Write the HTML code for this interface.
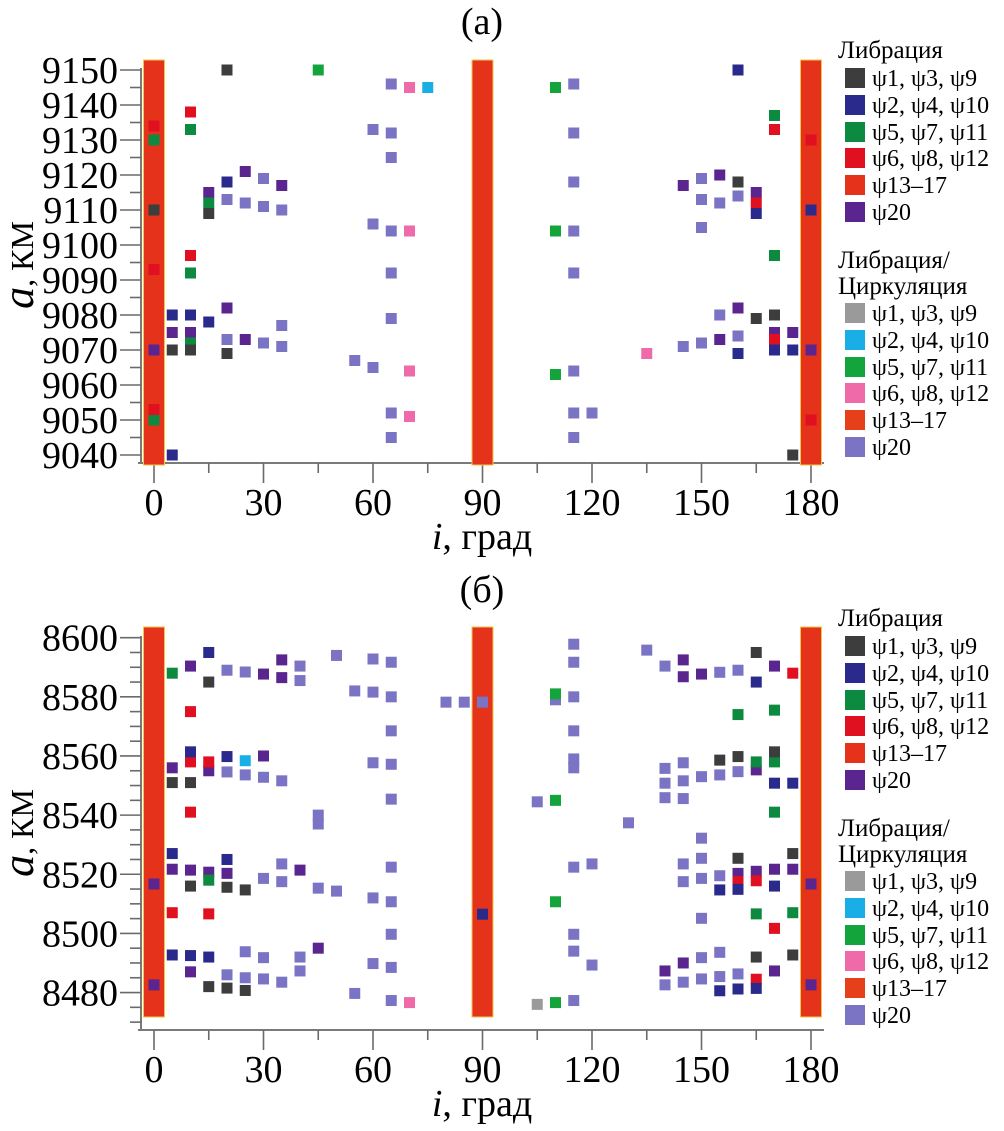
<!DOCTYPE html>
<html><head><meta charset="utf-8"><style>
html,body{margin:0;padding:0;background:#fff;}
svg{display:block;}
text{font-family:"Liberation Serif","DejaVu Serif",serif;fill:#000;}
</style></head><body>
<svg id="fig" width="1004" height="1131" viewBox="0 0 1004 1131" xmlns="http://www.w3.org/2000/svg" font-family="Liberation Serif, DejaVu Serif, serif"></svg>
<script>
// ---------- Panel (a) data: [inclination deg, semi-major axis km] ----------
const A_L1 = [[20,9150],[15,9109],[5,9070],[10,9070],[20,9069],[0,9110],[160,9118],[165,9079],[170,9080],[175,9040]];
const A_L2 = [[5,9080],[10,9080],[15,9078],[20,9118],[5,9040],[160,9150],[165,9109],[160,9069],[170,9070],[175,9070],[180,9110]];
const A_L5 = [[10,9133],[10,9092],[15,9112],[10,9072],[0,9130],[0,9050],[170,9137],[170,9097]];
const A_L6 = [[10,9138],[10,9097],[0,9134],[0,9093],[0,9053],[170,9133],[165,9112],[170,9073],[180,9130],[180,9050]];
const A_L20 = [[15,9115],[25,9121],[35,9117],[20,9082],[5,9075],[10,9075],[25,9073],[145,9117],[155,9120],[165,9115],[155,9073],[160,9082],[170,9075],[175,9075],[0,9070],[180,9070]];
const A_C1 = [];
const A_C2 = [[75,9145]];
const A_C5 = [[45,9150],[110,9145],[110,9104],[110,9063]];
const A_C6 = [[70,9145],[70,9104],[70,9064],[70,9051],[135,9069]];
const A_C20 = [[20,9113],[25,9112],[30,9111],[35,9110],[30,9119],[20,9073],[30,9072],[35,9071],[35,9077],[65,9146],[60,9133],[65,9132],[65,9125],[60,9106],[65,9104],[65,9092],[65,9079],[55,9067],[60,9065],[65,9052],[65,9045],[115,9146],[115,9132],[115,9118],[115,9104],[115,9092],[115,9064],[115,9052],[115,9045],[120,9052],[150,9119],[150,9113],[155,9112],[160,9114],[150,9105],[155,9080],[145,9071],[150,9072],[160,9074]];
const A_BARS = [0,90,180];
const A_YTICKS = [9150,9140,9130,9120,9110,9100,9090,9080,9070,9060,9050,9040];

// ---------- Panel (б) data ----------
const B_L1 = [[15,8585],[5,8551],[10,8551],[10,8516],[20,8515.6],[25,8514.7],[15,8482],[20,8481.5],[25,8480.7],[165,8595],[155,8558.6],[160,8559.8],[170,8561.4],[160,8525.4],[175,8527],[165,8492],[175,8492.7]];
const B_L2 = [[15,8595],[10,8561.4],[20,8559.8],[5,8527],[20,8525],[5,8492.7],[10,8492.5],[15,8492],[90,8506.5],[165,8585],[170,8550.8],[175,8550.8],[155,8514.7],[160,8514.9],[170,8516],[155,8480.6],[160,8481.2],[165,8481.4]];
const B_L5 = [[5,8588],[15,8518],[160,8574],[170,8575.5],[165,8558],[170,8558],[170,8541],[165,8506.6],[175,8507]];
const B_L6 = [[10,8575],[10,8558],[15,8558],[10,8541],[5,8507],[15,8506.6],[175,8588],[160,8517.5],[165,8517.8],[170,8501.7],[165,8484.5]];
const B_L20 = [[10,8590.4],[30,8587.7],[35,8592.5],[35,8586.5],[5,8556],[15,8555],[30,8560],[5,8521.7],[10,8521.4],[15,8520.7],[20,8520.3],[40,8521.4],[10,8487],[45,8495],[0,8516.7],[0,8482.6],[145,8592.5],[145,8586.8],[150,8587.7],[170,8590.4],[165,8555.3],[160,8520.3],[165,8521],[170,8521.7],[175,8521.7],[140,8487.3],[145,8490],[170,8487.3],[180,8516.7],[180,8482.6]];
const B_C1 = [[105,8476]];
const B_C2 = [[25,8558.4]];
const B_C5 = [[110,8581],[110,8545],[110,8510.7],[110,8476.6]];
const B_C6 = [[70,8476.6]];
const B_C20 = [[20,8589],[25,8588.4],[40,8590.4],[40,8585.5],[50,8594],[60,8592.8],[55,8582],[60,8581.6],[65,8591.7],[65,8580],[20,8554.6],[25,8553.6],[30,8552.8],[35,8551.6],[60,8557.7],[65,8557.2],[65,8568.5],[65,8545.4],[45,8540],[45,8537],[30,8518.6],[35,8523.5],[35,8517.5],[45,8515.3],[50,8514.3],[60,8512],[65,8510.7],[65,8522.4],[65,8499.7],[20,8486],[25,8485],[30,8484.6],[35,8483.5],[25,8493.8],[30,8491.8],[40,8492],[40,8487.3],[55,8479.7],[60,8489.8],[65,8488.5],[65,8477.3],[80,8578.2],[85,8578.2],[90,8578.2],[110,8579],[115,8597.8],[115,8591.7],[115,8580],[115,8568.5],[115,8559],[115,8556],[105,8544.5],[115,8522.4],[120,8523.5],[130,8537.4],[115,8499.7],[115,8494],[120,8489.3],[115,8477.3],[135,8595.8],[140,8590.4],[155,8588.3],[160,8589],[140,8555.8],[145,8557.7],[140,8550.8],[145,8551.6],[150,8553],[155,8553.6],[160,8554.7],[140,8545.9],[145,8545.6],[150,8532.2],[150,8525.4],[145,8523.5],[145,8517.5],[150,8518.6],[155,8519.5],[150,8505.1],[140,8482.6],[145,8483.5],[150,8491.8],[150,8484.6],[155,8493.6],[155,8485.4],[160,8486.3]];
const B_BARS = [0,90,180];
const B_YTICKS = [8600,8580,8560,8540,8520,8500,8480];

const X_TICKS = [0,30,60,90,120,150,180];
const LEGEND_LIB = ["ψ1, ψ3, ψ9","ψ2, ψ4, ψ10","ψ5, ψ7, ψ11","ψ6, ψ8, ψ12","ψ13–17","ψ20"];

const COL_L = ["#3d3d3d","#2a2a8c","#0b8a40","#e01020","#e5321a","#5b2590"];
const COL_C = ["#9a9a9a","#1aaee6","#14a43c","#ee6aa8","#e5401a","#7b74c4"];

const NS = "http://www.w3.org/2000/svg";
const FF = '"Liberation Serif", "DejaVu Serif", serif';
const svg = document.getElementById("fig");
function mk(tag, attrs, parent){
  const e = document.createElementNS(NS, tag);
  for (const k in attrs) e.setAttribute(k, attrs[k]);
  if (tag === "text") e.style.fontFamily = FF;
  (parent||svg).appendChild(e);
  return e;
}
function xPx(d){ return 154 + d*3.65; }

function panel(cfg){
  const g = mk("g", {});
  
  
  const yPx = km => cfg.y0 + (cfg.kmTop - km)*cfg.k;
  const oy = cfg.oy;

  const t = mk("text", {x:482, y:34+oy, "font-size":38, "text-anchor":"middle"}, g);
  t.textContent = cfg.title;
  
  

  const ya = mk("g", {}, g);
  
  
  mk("line", {x1:141, y1:cfg.axisTop, x2:141, y2:cfg.xAxisY, stroke:"#7a7a7a", "stroke-width":2}, ya);
  for (let km = cfg.kmTop; km >= cfg.kmMinTick; km -= 5){
    const major = (km % cfg.majorStep) === 0;
    mk("line", {x1: major?120:130, y1:yPx(km), x2:141, y2:yPx(km), stroke:"#6a6a6a", "stroke-width":1.6}, ya);
  }
  cfg.yticks.forEach(v => {
    const tx = mk("text", {x:118, y:yPx(v)+13, "font-size":38, "text-anchor":"end"}, ya);
    tx.textContent = v;
    
    
  });
  const yt = mk("text", {transform:`translate(33 ${cfg.yTitleY}) rotate(-90)`, "text-anchor":"middle", "font-size":32}, g);
  yt.innerHTML = '<tspan font-style="italic" font-size="44">a</tspan>, КМ';
  
  

  const xa = mk("g", {}, g);
  
  
  mk("line", {x1:138, y1:cfg.xAxisY, x2:824, y2:cfg.xAxisY, stroke:"#7a7a7a", "stroke-width":2}, xa);
  for (let d = 0; d <= 180; d += 15){
    const major = d % 30 === 0;
    mk("line", {x1:xPx(d), y1:cfg.xAxisY, x2:xPx(d), y2:cfg.xAxisY + (major?20:10), stroke:"#6a6a6a", "stroke-width":1.6}, xa);
  }
  X_TICKS.forEach(d => {
    const tx = mk("text", {x:xPx(d), y:cfg.xAxisY+52, "font-size":38, "text-anchor":"middle"}, xa);
    tx.textContent = d;
    
    
  });
  const xt = mk("text", {x:482, y:cfg.xAxisY+86, "font-size":38, "text-anchor":"middle"}, g);
  xt.innerHTML = '<tspan font-style="italic">i</tspan>, град';
  
  

  cfg.bars.forEach(d => {
    const r = mk("rect", {x:xPx(d)-10.5, y:cfg.barTop, width:21, height:cfg.barBot-cfg.barTop, fill:COL_L[4], stroke:"#f3c64a", "stroke-width":1}, g);
    
    
  });

  function series(arr, color, name){
    const sg = mk("g", {}, g);
    
    
    arr.forEach(p => {
      const r = mk("rect", {x:xPx(p[0])-5.5, y:yPx(p[1])-5.5, width:11, height:11, fill:color}, sg);
      
      
    });
  }
  series(cfg.c20, COL_C[5], 'series-lc-psi20');
  series(cfg.c6, COL_C[3], 'series-lc-psi6');
  series(cfg.c2, COL_C[1], 'series-lc-psi2');
  series(cfg.c5, COL_C[2], 'series-lc-psi5');
  series(cfg.c1, COL_C[0], 'series-lc-psi1');
  series(cfg.l20, COL_L[5], 'series-lib-psi20');
  series(cfg.l5, COL_L[2], 'series-lib-psi5');
  series(cfg.l6, COL_L[3], 'series-lib-psi6');
  series(cfg.l1, COL_L[0], 'series-lib-psi1');
  series(cfg.l2, COL_L[1], 'series-lib-psi2');

  const lg = mk("g", {}, g);
  
  
  const h1 = mk("text", {x:838, y:58+oy, "font-size":25}, lg);
  h1.textContent = "Либрация";
  
  
  const rows1 = [78,105,132,158,185,212];
  LEGEND_LIB.forEach((s,i) => {
    const r = mk("rect", {x:845, y:rows1[i]-10+oy, width:20, height:20, fill:COL_L[i]}, lg);
    
    
    const tx = mk("text", {x:872, y:rows1[i]+8+oy, "font-size":24}, lg);
    tx.textContent = s;
    
    
  });
  const h2 = mk("text", {x:838, y:268+oy, "font-size":25}, lg);
  h2.textContent = "Либрация/";
  
  
  const h3 = mk("text", {x:838, y:294+oy, "font-size":25}, lg);
  h3.textContent = "Циркуляция";
  
  
  const rows2 = [313,340,367,393,420,447];
  LEGEND_LIB.forEach((s,i) => {
    const r = mk("rect", {x:845, y:rows2[i]-10+oy, width:20, height:20, fill:COL_C[i]}, lg);
    
    
    const tx = mk("text", {x:872, y:rows2[i]+8+oy, "font-size":24}, lg);
    tx.textContent = s;
    
    
  });
}

panel({name:'panel-a', title:'(a)', oy:0, y0:70, kmTop:9150, k:3.5, kmMinTick:9040, majorStep:10,
  axisTop:68, xAxisY:463, barTop:60, barBot:465, yTitleY:265, yticks:A_YTICKS, bars:A_BARS,
  l1:A_L1, l2:A_L2, l5:A_L5, l6:A_L6, l20:A_L20, c1:A_C1, c2:A_C2, c5:A_C5, c6:A_C6, c20:A_C20});
panel({name:'panel-b', title:'(б)', oy:568, y0:637.7, kmTop:8600, k:2.957, kmMinTick:8470, majorStep:20,
  axisTop:636, xAxisY:1030, barTop:627, barBot:1017, yTitleY:833, yticks:B_YTICKS, bars:B_BARS,
  l1:B_L1, l2:B_L2, l5:B_L5, l6:B_L6, l20:B_L20, c1:B_C1, c2:B_C2, c5:B_C5, c6:B_C6, c20:B_C20});
</script>
</body></html>
